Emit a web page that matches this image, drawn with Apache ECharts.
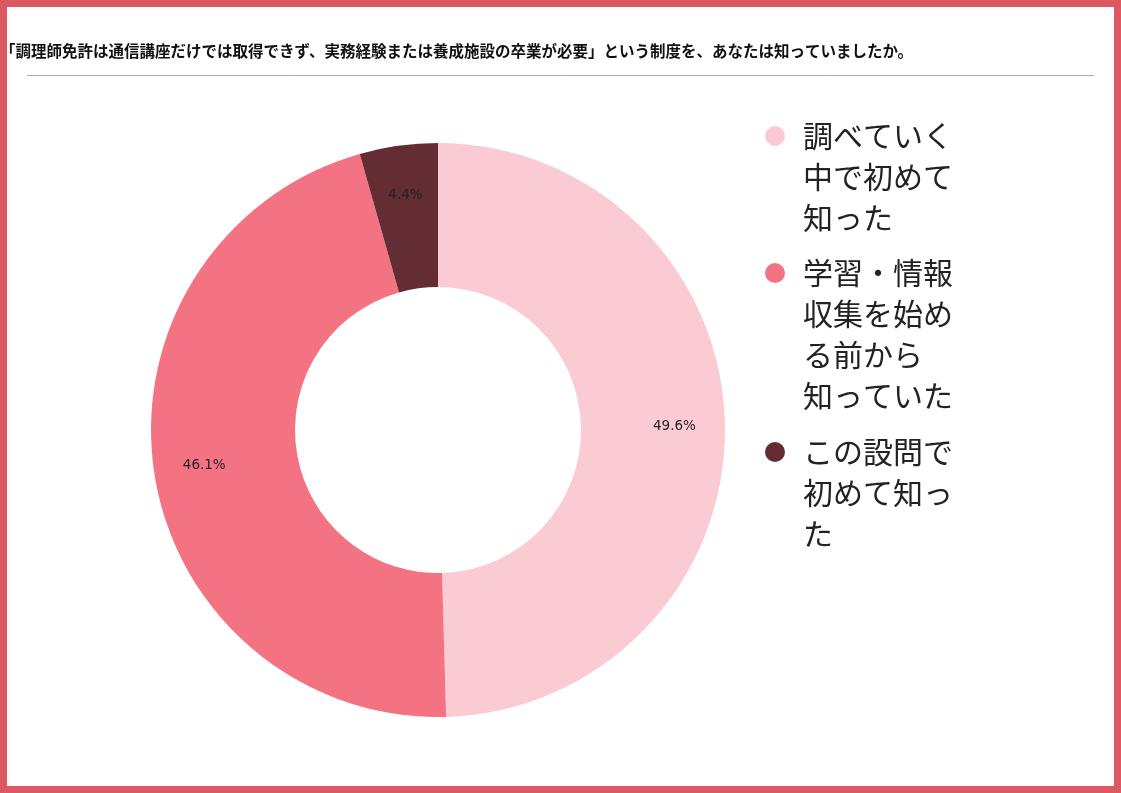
<!DOCTYPE html>
<html>
<head>
<meta charset="utf-8">
<title>調理師免許 認知度</title>
<script src="https://cdn.jsdelivr.net/npm/echarts@6/dist/echarts.min.js"></script>
<style>
  html, body { margin: 0; padding: 0; background: #fff; }
  #frame {
    position: absolute; left: 0; top: 0;
    width: 1121px; height: 793px;
    box-sizing: border-box;
    border: 7px solid #dc5963;
  }
  #main { position: absolute; left: 0; top: 0; width: 1121px; height: 793px; }
</style>
</head>
<body>
<div id="frame"></div>
<div id="main"></div>
<script>
// 設問と回答
var titleText = '「調理師免許は通信講座だけでは取得できず、実務経験または養成施設の卒業が必要」という制度を、あなたは知っていましたか。';
var categories = ['調べていく中で初めて知った', '学習・情報収集を始める前から知っていた', 'この設問で初めて知った'];
var shares = [49.6, 46.1, 4.4];   // %
var colors = ['#fbcbd3', '#f47383', '#632d33'];
// 凡例の改行位置（元の図どおり）
var legendLines = [
  ['調べていく', '中で初めて', '知った'],
  ['学習・情報', '収集を始め', 'る前から', '知っていた'],
  ['この設問で', '初めて知っ', 'た']
];

var LINE = 41;
var legendIconY = [136, 273, 452];

var pieData = categories.map(function (name, i) {
  return { name: name, value: shares[i], itemStyle: { color: colors[i] } };
});

// 凡例は1項目ずつ。アイコンを1行目に合わせるため上paddingで文字をずらす
var legends = categories.map(function (name, i) {
  var n = legendLines[i].length;
  return {
    orient: 'vertical',
    left: 765,
    top: legendIconY[i] - (2 * n - 1) * LINE / 2,
    padding: 0,
    icon: 'circle',
    itemWidth: 20,
    itemHeight: 20,
    selectedMode: false,
    data: [name],
    formatter: function () {
      return legendLines[i].map(function (s) { return '{t|' + s + '}'; }).join('\n');
    },
    textStyle: {
      backgroundColor: 'rgba(0,0,0,0)',
      padding: [(n - 1) * LINE, 0, 0, 13],
      rich: {
        t: {
          fontFamily: 'Noto Sans CJK JP',
          fontSize: 30,
          lineHeight: LINE,
          color: '#222'
        }
      }
    }
  };
});

var myChart = echarts.init(document.getElementById('main'));

var option = {
  animation: false,
  title: {
    text: titleText,
    left: 0,
    top: 42,
    padding: 0,
    textStyle: {
      fontFamily: 'Noto Sans CJK JP',
      fontSize: 15.5,
      fontWeight: 'bold',
      lineHeight: 18,
      color: '#111'
    }
  },
  graphic: [{
    type: 'line',
    shape: { x1: 27, y1: 75.5, x2: 1094, y2: 75.5 },
    style: { stroke: '#aaaaaa', lineWidth: 1 }
  }],
  legend: legends,
  series: [{
    name: '回答',
    type: 'pie',
    center: [438, 430],
    radius: [143, 287],
    startAngle: 90,
    clockwise: true,
    label: { show: false },
    labelLine: { show: false },
    emphasis: { disabled: true },
    data: pieData
  }, {
    // ラベル位置用（透明）
    name: 'ラベル',
    type: 'pie',
    center: [438, 430],
    radius: [180, 287],
    startAngle: 90,
    clockwise: true,
    silent: true,
    legendHoverLink: false,
    itemStyle: { color: 'rgba(0,0,0,0)' },
    label: {
      show: true,
      position: 'inside',
      formatter: '{c}%',
      fontFamily: 'DejaVu Sans',
      fontSize: 13.5,
      color: '#222'
    },
    labelLine: { show: false },
    emphasis: { disabled: true },
    data: categories.map(function (name, i) { return { name: name, value: shares[i] }; })
  }]
};

myChart.setOption(option);
</script>
</body>
</html>
